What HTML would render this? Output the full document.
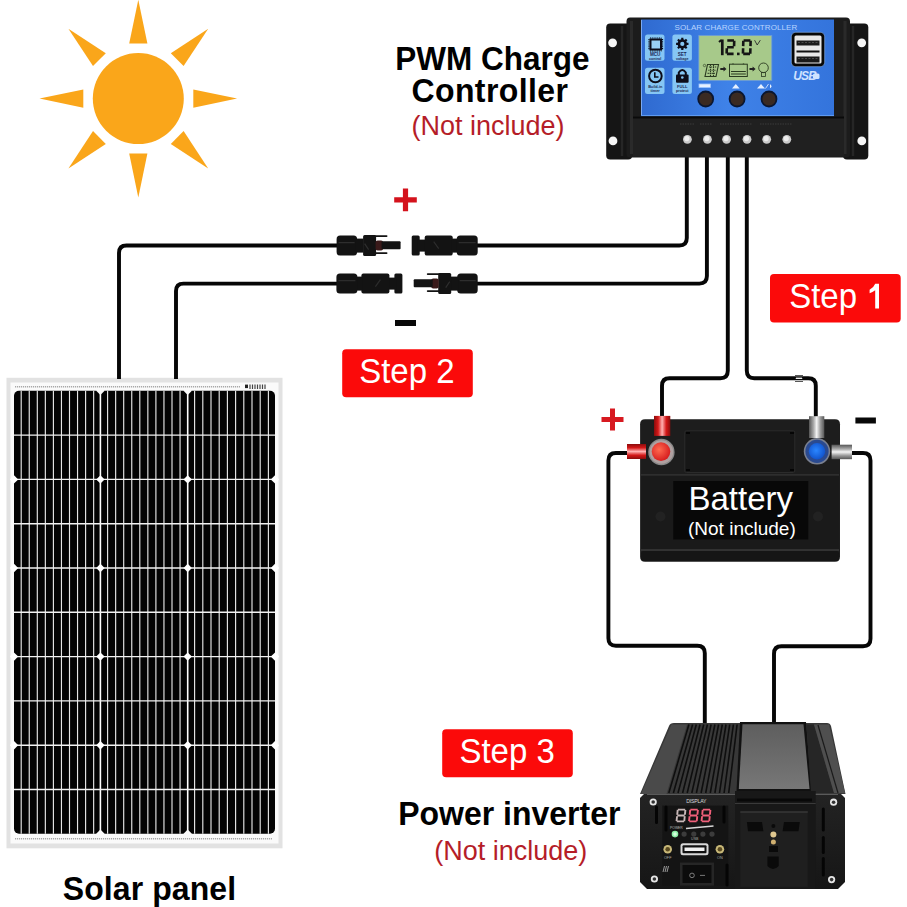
<!DOCTYPE html>
<html><head><meta charset="utf-8"><style>
html,body{margin:0;padding:0;background:#fff;width:907px;height:907px;overflow:hidden}
svg{display:block;position:absolute;left:0;top:0}
text{font-family:"Liberation Sans",sans-serif}
</style></head><body>
<svg width="907" height="907" viewBox="0 0 907 907">
<circle cx="138.3" cy="98.6" r="45.5" fill="#faa61a"/>
<path d="M237.1 98.6L193.3 107.7L193.3 89.5Z" fill="#faa61a"/>
<path d="M208.2 168.5L170.8 143.9L183.6 131.1Z" fill="#faa61a"/>
<path d="M138.3 197.4L129.2 153.6L147.4 153.6Z" fill="#faa61a"/>
<path d="M68.4 168.5L93.0 131.1L105.8 143.9Z" fill="#faa61a"/>
<path d="M39.5 98.6L83.3 89.5L83.3 107.7Z" fill="#faa61a"/>
<path d="M68.4 28.7L105.8 53.3L93.0 66.1Z" fill="#faa61a"/>
<path d="M138.3 -0.2L147.4 43.6L129.2 43.6Z" fill="#faa61a"/>
<path d="M208.2 28.7L183.6 66.1L170.8 53.3Z" fill="#faa61a"/>
<rect x="6.5" y="377.8" width="276" height="470.5" fill="#e2e2e2"/>
<rect x="10.5" y="382.5" width="268" height="461" fill="#fafafa"/>
<rect x="14" y="390.8" width="261" height="442.99999999999994" rx="5" fill="#030303"/>
<path d="M21.20 390.8V833.8M29.25 390.8V833.8M37.30 390.8V833.8M45.35 390.8V833.8M53.40 390.8V833.8M61.45 390.8V833.8M69.50 390.8V833.8M77.55 390.8V833.8M85.60 390.8V833.8M93.65 390.8V833.8M107.60 390.8V833.8M115.65 390.8V833.8M123.70 390.8V833.8M131.75 390.8V833.8M139.80 390.8V833.8M147.85 390.8V833.8M155.90 390.8V833.8M163.95 390.8V833.8M172.00 390.8V833.8M180.05 390.8V833.8M194.60 390.8V833.8M202.80 390.8V833.8M211.00 390.8V833.8M219.20 390.8V833.8M227.40 390.8V833.8M235.60 390.8V833.8M243.80 390.8V833.8M252.00 390.8V833.8M260.20 390.8V833.8M268.40 390.8V833.8" stroke="#e6e6e6" stroke-width="1.15" fill="none"/>
<path d="M100.4 390.8V833.8M187.7 390.8V833.8" stroke="#ffffff" stroke-width="1.6"/>
<path d="M14 435.1H275M14 479.4H275M14 523.7H275M14 568.0H275M14 612.3H275M14 656.6H275M14 700.9H275M14 745.2H275M14 789.5H275" stroke="#f2f2f2" stroke-width="1.4" fill="none"/>
<path d="M14 475.2L18.2 479.4L14 483.6L9.8 479.4Z" fill="#fff"/>
<path d="M100.4 475.2L104.60000000000001 479.4L100.4 483.6L96.2 479.4Z" fill="#fff"/>
<path d="M187.7 475.2L191.89999999999998 479.4L187.7 483.6L183.5 479.4Z" fill="#fff"/>
<path d="M275 475.2L279.2 479.4L275 483.6L270.8 479.4Z" fill="#fff"/>
<path d="M14 563.8L18.2 568.0L14 572.2L9.8 568.0Z" fill="#fff"/>
<path d="M100.4 563.8L104.60000000000001 568.0L100.4 572.2L96.2 568.0Z" fill="#fff"/>
<path d="M187.7 563.8L191.89999999999998 568.0L187.7 572.2L183.5 568.0Z" fill="#fff"/>
<path d="M275 563.8L279.2 568.0L275 572.2L270.8 568.0Z" fill="#fff"/>
<path d="M14 652.4L18.2 656.6L14 660.8L9.8 656.6Z" fill="#fff"/>
<path d="M100.4 652.4L104.60000000000001 656.6L100.4 660.8L96.2 656.6Z" fill="#fff"/>
<path d="M187.7 652.4L191.89999999999998 656.6L187.7 660.8L183.5 656.6Z" fill="#fff"/>
<path d="M275 652.4L279.2 656.6L275 660.8L270.8 656.6Z" fill="#fff"/>
<path d="M14 741.0L18.2 745.2L14 749.4L9.8 745.2Z" fill="#fff"/>
<path d="M100.4 741.0L104.60000000000001 745.2L100.4 749.4L96.2 745.2Z" fill="#fff"/>
<path d="M187.7 741.0L191.89999999999998 745.2L187.7 749.4L183.5 745.2Z" fill="#fff"/>
<path d="M275 741.0L279.2 745.2L275 749.4L270.8 745.2Z" fill="#fff"/>
<path d="M100.4 386.6L104.60000000000001 390.8L100.4 395.0L96.2 390.8Z" fill="#fafafa"/>
<path d="M187.7 386.6L191.89999999999998 390.8L187.7 395.0L183.5 390.8Z" fill="#fafafa"/>
<path d="M100.4 829.6L104.60000000000001 833.8L100.4 838.0L96.2 833.8Z" fill="#fafafa"/>
<path d="M187.7 829.6L191.89999999999998 833.8L187.7 838.0L183.5 833.8Z" fill="#fafafa"/>
<path d="M15 386.8H240M15 838.8H272" stroke="#a8a8a8" stroke-width="1.5" stroke-dasharray="1.2 0.8"/>
<rect x="245" y="384.6" width="3" height="3.5" fill="#222"/><path d="M250 384.5V389M252.5 384.5V389M255 384.5V389M257.5 384.5V389M260 384.5V389M262.5 384.5V389M265 384.5V389" stroke="#444" stroke-width="1.2"/>
<path d="M686.8 157V238.0Q686.8 245.5 679.3 245.5H470" stroke="#060606" stroke-width="3.9" fill="none"/>
<path d="M345 245.5H126.5Q119 245.5 119 253.0V379" stroke="#060606" stroke-width="3.9" fill="none"/>
<path d="M706.9 157V276.1Q706.9 283.6 699.4 283.6H470" stroke="#060606" stroke-width="3.9" fill="none"/>
<path d="M345 283.6H183.5Q176 283.6 176 291.1V379" stroke="#060606" stroke-width="3.9" fill="none"/>
<path d="M727.8 157V370.8Q727.8 378.3 720.3 378.3H669.5Q662 378.3 662 385.8V418" stroke="#060606" stroke-width="3.9" fill="none"/>
<path d="M746.8 157V370.8Q746.8 378.3 754.3 378.3H808.3Q815.8 378.3 815.8 385.8V418" stroke="#060606" stroke-width="3.9" fill="none"/>
<path d="M630 453H615.9Q608.4 453 608.4 460.5V638.3Q608.4 645.8 615.9 645.8H697.3Q704.8 645.8 704.8 653.3V724" stroke="#060606" stroke-width="3.9" fill="none"/>
<path d="M849 453H863.0Q870.5 453 870.5 460.5V638.8Q870.5 646.3 863.0 646.3H781.5Q774 646.3 774 653.8V724" stroke="#060606" stroke-width="3.9" fill="none"/>
<path d="M795 375.5H803M795 378.5H803M795 381.5H803" stroke="#444" stroke-width="0.9"/>
<path d="M796 378.3H802" stroke="#eee" stroke-width="1.4"/>
<defs><linearGradient id="bl" x1="0" y1="0" x2="1" y2="0"><stop offset="0" stop-color="#2f6ad0"/><stop offset="0.45" stop-color="#3f82e8"/><stop offset="1" stop-color="#3474dc"/></linearGradient></defs>
<rect x="606.2" y="23.5" width="26" height="136" rx="4" fill="#151515"/>
<rect x="843" y="23.5" width="25.3" height="136" rx="4" fill="#151515"/>
<path d="M630 17.5H846Q850 17.5 850 21.5V154Q850 157.5 846 157.5H630Q626.5 157.5 626.5 154V21.5Q626.5 17.5 630 17.5Z" fill="#1c1c1c"/>
<path d="M622 26V156M853 26V156" stroke="#262626" stroke-width="2.5"/>
<path d="M631.5 21V154M845 21V154" stroke="#2a2a2a" stroke-width="3"/>
<circle cx="612.6" cy="42.8" r="4.4" fill="#f6f6f6"/>
<circle cx="613" cy="140.9" r="4.4" fill="#f6f6f6"/>
<circle cx="861.7" cy="42.8" r="4.4" fill="#f6f6f6"/>
<circle cx="861.8" cy="140.9" r="4.4" fill="#f6f6f6"/>
<rect x="641" y="19.5" width="193" height="97" fill="url(#bl)"/>
<path d="M641.5 20V115.5" stroke="#9cc4ff" stroke-width="1" opacity="0.7"/>
<path d="M641 115.5H834" stroke="#5e9af0" stroke-width="1.2"/>
<text x="736" y="29.8" text-anchor="middle" font-size="8" fill="#b8d4ff" letter-spacing="0.1">SOLAR CHARGE CONTROLLER</text>
<rect x="645" y="34.6" width="19.5" height="26.2" rx="2.5" fill="#86c6f4"/>
<rect x="672.4" y="34.6" width="19.5" height="26.2" rx="2.5" fill="#86c6f4"/>
<rect x="645" y="67.8" width="19.5" height="26.2" rx="2.5" fill="#86c6f4"/>
<rect x="672.4" y="67.8" width="19.5" height="26.2" rx="2.5" fill="#86c6f4"/>
<rect x="650.5" y="39.5" width="10.5" height="10" fill="#9ad0f6" stroke="#0d0d1a" stroke-width="2"/>
<path d="M649 39V50M662.5 39V50M650 38H661.5M650 51H661.5" stroke="#0d0d1a" stroke-width="1.2" stroke-dasharray="1 0.8"/>
<text x="655.2" y="56.3" text-anchor="middle" font-size="4.6" font-weight="bold" fill="#1a2a55">MCU</text>
<text x="655.2" y="59.9" text-anchor="middle" font-size="3.6" font-weight="bold" fill="#1a2a55">control</text>
<path d="M686.10 43.90L688.50 43.90M684.99 46.59L686.68 48.28M682.30 47.70L682.30 50.10M679.61 46.59L677.92 48.28M678.50 43.90L676.10 43.90M679.61 41.21L677.92 39.52M682.30 40.10L682.30 37.70M684.99 41.21L686.68 39.52" stroke="#0d0d1a" stroke-width="2.2"/>
<circle cx="682.3" cy="43.9" r="3.4" fill="none" stroke="#0d0d1a" stroke-width="2.6"/>
<text x="682.2" y="56.3" text-anchor="middle" font-size="4.6" font-weight="bold" fill="#1a2a55">SET</text>
<text x="682.2" y="59.9" text-anchor="middle" font-size="3.6" font-weight="bold" fill="#1a2a55">voltage</text>
<circle cx="655.4" cy="76" r="6.3" fill="none" stroke="#0d0d1a" stroke-width="2"/>
<path d="M654.8 72.2V77H658.5" stroke="#0d0d1a" stroke-width="1.6" fill="none"/>
<text x="655.2" y="87.6" text-anchor="middle" font-size="3.8" font-weight="bold" fill="#1a2a55">Build-in</text>
<text x="655.2" y="91.6" text-anchor="middle" font-size="3.8" font-weight="bold" fill="#1a2a55">timer</text>
<path d="M678.8 75V72.5Q682.3 67.5 685.8 72.5V75" stroke="#0d0d1a" stroke-width="2" fill="none"/>
<rect x="676" y="74.4" width="12.6" height="8.3" rx="1" fill="#0d0d1a"/>
<circle cx="682.3" cy="77.5" r="1.3" fill="#86c6f4"/>
<text x="682.2" y="87.6" text-anchor="middle" font-size="4.1" font-weight="bold" fill="#1a2a55">FULL</text>
<text x="682.2" y="91.6" text-anchor="middle" font-size="3.7" font-weight="bold" fill="#1a2a55">protect</text>
<rect x="698.8" y="35.5" width="73" height="45" fill="#a7c98a"/>
<rect x="698.8" y="35.5" width="73" height="45" fill="none" stroke="#6b9bd8" stroke-width="0.8"/>
<path d="M722.3 39.5V55.2" stroke="#151515" stroke-width="2.7"/>
<path d="M721.5 40L719 42" stroke="#151515" stroke-width="2.2"/>
<path d="M727.30 40.50L733.98 40.50M734.23 40.76L734.07 46.16M726.90 53.90L733.58 53.90M726.81 48.24L726.65 53.64M727.10 47.20L733.78 47.20" stroke="#151515" stroke-width="2.6" fill="none"/>
<rect x="737" y="52.6" width="2.6" height="2.6" fill="#151515"/>
<path d="M743.60 40.50L750.38 40.50M750.63 40.76L750.47 46.16M750.41 48.24L750.25 53.64M743.20 53.90L749.98 53.90M743.11 48.24L742.95 53.64M743.33 40.76L743.17 46.16" stroke="#151515" stroke-width="2.6" fill="none"/>
<path d="M754.6 40.2L757.2 45L760.3 40.2" stroke="#2a2a2a" stroke-width="0.9" fill="none"/>
<path d="M707.5 64.5H718.5L716 76.5H705Z" fill="none" stroke="#2a3a20" stroke-width="1.1"/>
<path d="M709 67H717M708.3 70.2H716.3M707.6 73.4H715.6M710.5 65V76M713.5 65V76" stroke="#2a3a20" stroke-width="1.1" stroke-dasharray="1.2 0.8"/>
<circle cx="704.5" cy="65.5" r="1.2" fill="none" stroke="#2a3a20" stroke-width="0.6"/>
<path d="M720.3 68H723.5V66.5L726.5 69L723.5 71.5V70H720.3Z" fill="#222"/>
<rect x="729.5" y="64.2" width="17.8" height="12.3" fill="none" stroke="#2a3a20" stroke-width="1"/>
<path d="M733 63.5V64.2M743.5 63.5V64.2" stroke="#2a3a20" stroke-width="1.4"/>
<path d="M731 71.5H745.8M731 74H745.8" stroke="#2a3a20" stroke-width="1.1"/>
<path d="M749.5 68H752.6V66.5L755.6 69L752.6 71.5V70H749.5Z" fill="#222"/>
<circle cx="763.5" cy="67.8" r="4.8" fill="none" stroke="#2a3a20" stroke-width="0.9"/>
<rect x="761.5" y="72.4" width="4" height="4" fill="none" stroke="#2a3a20" stroke-width="0.8"/>
<rect x="699" y="84" width="11.4" height="3.5" fill="#e6f0ff" stroke="#9cc4ff" stroke-width="0.8"/>
<path d="M732 88.5L735.8 84L739.6 88.5Z" fill="#e6f0ff"/>
<path d="M757 88.5L761 84L765 88.5Z" fill="#e6f0ff"/><path d="M765.5 88.5L768.5 84" stroke="#e6f0ff" stroke-width="0.8"/><path d="M770 84.2A2.2 2.2 0 0 1 770 88.3Z" fill="#e6f0ff"/>
<circle cx="705.7" cy="99" r="8.4" fill="#0a1630"/><circle cx="705.7" cy="99" r="6.6" fill="#3a2a22"/>
<circle cx="737.1" cy="99" r="8.4" fill="#0a1630"/><circle cx="737.1" cy="99" r="6.6" fill="#3a2a22"/>
<circle cx="769" cy="99" r="8.4" fill="#0a1630"/><circle cx="769" cy="99" r="6.6" fill="#3a2a22"/>
<rect x="791.3" y="32.3" width="33.4" height="34.4" rx="4.5" fill="#080808" stroke="#8fb8f0" stroke-width="0.6"/>
<rect x="794.5" y="35.5" width="27" height="28" rx="1.5" fill="#e8e8e8"/>
<rect x="796.5" y="40.5" width="23" height="5" fill="#1a1a1a"/><rect x="796.5" y="50.5" width="23" height="2" fill="#111"/>
<rect x="796.5" y="56.5" width="23" height="6" fill="#1a1a1a"/>
<path d="M798 42.5H818M798 58.5H818" stroke="#555" stroke-width="0.8" stroke-dasharray="2 1.5"/>
<text x="793.2" y="79.8" font-size="12" font-style="italic" font-weight="bold" fill="#cfe2ff" letter-spacing="-0.8">USB</text>
<rect x="813" y="73.5" width="6.5" height="5.5" rx="1.5" fill="#cfe2ff"/>
<rect x="633" y="116.5" width="211" height="40" fill="#202020"/>
<path d="M633 117.5H844" stroke="#0a0a0a" stroke-width="2"/>
<path d="M680 124H694M700 124H712M720 124H752M760 124H792" stroke="#3a3a3a" stroke-width="1.2" stroke-dasharray="1.5 1"/>
<circle cx="687.4" cy="139.3" r="4.4" fill="#c9c9c9"/><circle cx="686.8" cy="138.6" r="2.6" fill="#ededed"/>
<circle cx="707.4" cy="139.3" r="4.4" fill="#c9c9c9"/><circle cx="706.8" cy="138.6" r="2.6" fill="#ededed"/>
<circle cx="726.6" cy="139.3" r="4.4" fill="#c9c9c9"/><circle cx="726.0" cy="138.6" r="2.6" fill="#ededed"/>
<circle cx="747" cy="139.3" r="4.4" fill="#c9c9c9"/><circle cx="746.4" cy="138.6" r="2.6" fill="#ededed"/>
<circle cx="766.7" cy="139.3" r="4.4" fill="#c9c9c9"/><circle cx="766.1" cy="138.6" r="2.6" fill="#ededed"/>
<circle cx="786.8" cy="139.3" r="4.4" fill="#c9c9c9"/><circle cx="786.1999999999999" cy="138.6" r="2.6" fill="#ededed"/>
<defs><linearGradient id="rpv" x1="0" y1="0" x2="1" y2="0"><stop offset="0" stop-color="#8a0c0c"/><stop offset="0.25" stop-color="#d41818"/><stop offset="0.5" stop-color="#ffb0b0"/><stop offset="0.75" stop-color="#d41818"/><stop offset="1" stop-color="#8a0c0c"/></linearGradient><linearGradient id="rph" x1="0" y1="0" x2="0" y2="1"><stop offset="0" stop-color="#8a0c0c"/><stop offset="0.25" stop-color="#d41818"/><stop offset="0.5" stop-color="#ffb0b0"/><stop offset="0.75" stop-color="#d41818"/><stop offset="1" stop-color="#8a0c0c"/></linearGradient><linearGradient id="gpv" x1="0" y1="0" x2="1" y2="0"><stop offset="0" stop-color="#555"/><stop offset="0.3" stop-color="#aaa"/><stop offset="0.5" stop-color="#f4f4f4"/><stop offset="0.75" stop-color="#999"/><stop offset="1" stop-color="#555"/></linearGradient><linearGradient id="gph" x1="0" y1="0" x2="0" y2="1"><stop offset="0" stop-color="#555"/><stop offset="0.3" stop-color="#aaa"/><stop offset="0.5" stop-color="#f4f4f4"/><stop offset="0.75" stop-color="#999"/><stop offset="1" stop-color="#555"/></linearGradient><radialGradient id="rc" cx="0.4" cy="0.4" r="0.6"><stop offset="0" stop-color="#ff6a50"/><stop offset="1" stop-color="#d82020"/></radialGradient><radialGradient id="bc" cx="0.45" cy="0.45" r="0.6"><stop offset="0" stop-color="#2a86ff"/><stop offset="1" stop-color="#1050c8"/></radialGradient></defs>
<path d="M645 419.3H835Q840 419.3 840 424.3V556.7Q840 561.7 835 561.7H645Q640.1 561.7 640.1 556.7V424.3Q640.1 419.3 645 419.3Z" fill="#1d1d1d"/>
<path d="M641 474.8H839" stroke="#353535" stroke-width="1.3"/>
<rect x="641" y="476" width="198" height="74" fill="#1a1a1a"/>
<path d="M641 550H839" stroke="#3a3a3a" stroke-width="1.3"/>
<rect x="641" y="551" width="198" height="10" rx="3" fill="#151515"/>
<circle cx="660.5" cy="516.5" r="5" fill="#222"/><circle cx="818" cy="516.5" r="5" fill="#222"/>
<rect x="684.8" y="430.8" width="110" height="41.7" rx="1.5" fill="#171717" stroke="#2b2b2b" stroke-width="1"/>
<path d="M686 433H690M790 433H794M686 470H690M790 470H794" stroke="#050505" stroke-width="2"/>
<rect x="673.3" y="481" width="135" height="58.5" fill="#080808"/>
<text x="688.5" y="510" font-size="33" fill="#fff">Battery</text>
<text x="688" y="535.2" font-size="19" fill="#fff">(Not include)</text>
<rect x="654" y="415.9" width="16.3" height="20" fill="url(#rpv)"/>
<rect x="627" y="444" width="19" height="15" fill="url(#rph)"/>
<circle cx="661.4" cy="452" r="13.2" fill="#8a8a8a"/><circle cx="661.4" cy="452" r="11.8" fill="#b0a0a0"/>
<circle cx="661" cy="451.6" r="9.3" fill="url(#rc)"/>
<rect x="809" y="416.2" width="15.3" height="21.8" fill="url(#gpv)"/>
<rect x="831.6" y="444.7" width="20.4" height="14.5" fill="url(#gph)"/>
<circle cx="817" cy="451.3" r="13.2" fill="#7a8090"/><circle cx="817" cy="451.3" r="11.6" fill="#2a4a90"/>
<circle cx="817" cy="451.3" r="8.2" fill="url(#bc)"/>
<path d="M601.5 419.5H623.5M612.5 408.5V430.5" stroke="#d71920" stroke-width="5"/>
<rect x="855.4" y="417.5" width="20.5" height="6" fill="#080808"/>
<defs><linearGradient id="ip" x1="0" y1="0" x2="0" y2="1"><stop offset="0" stop-color="#5e5e5e"/><stop offset="1" stop-color="#777"/></linearGradient><linearGradient id="ifr" x1="0" y1="0" x2="0" y2="1"><stop offset="0" stop-color="#232323"/><stop offset="1" stop-color="#161616"/></linearGradient></defs>
<path d="M674 723H827Q830 723 831 726L845.5 794H640L669 726Q670 723 674 723Z" fill="#383838"/>
<path d="M671.5 724.5L687 724.5L666.5 794H641Z" fill="#4a4a4a"/>
<path d="M688.9 724.5L668.8 793M692.6 724.5L673.4 793M696.3 724.5L678.0 793M700.0 724.5L682.6 793M703.7 724.5L687.2 793M707.4 724.5L691.8 793M711.1 724.5L696.4 793M714.9 724.5L701.1 793M718.6 724.5L705.7 793M722.3 724.5L710.3 793M726.0 724.5L714.9 793M729.7 724.5L719.5 793M733.4 724.5L724.1 793M737.1 724.5L728.7 793" stroke="#0e0e0e" stroke-width="1.6"/>
<path d="M740 722H806L811.5 791H736.5Z" fill="#111"/>
<path d="M742.5 724.2H803.5L809.5 789H738.8Z" fill="url(#ip)"/>
<path d="M806.5 724.5H814L834 793H811Z" fill="#262626"/>
<path d="M814 724.5H829L845 793H834Z" fill="#4f4f4f"/>
<path d="M818 725L838 793" stroke="#1a1a1a" stroke-width="1.2"/>
<path d="M644 794H841L845 798V882L838 889H647L640 882V798Z" fill="url(#ifr)"/>
<path d="M647 794.5H838" stroke="#5a5a5a" stroke-width="1.2"/>
<rect x="662.3" y="805.6" width="66" height="80" fill="#141414"/>
<circle cx="653.2" cy="802" r="3.6" fill="#e6e6e6"/><circle cx="653.2" cy="802" r="1.8" fill="#333"/>
<circle cx="654.4" cy="879" r="3.6" fill="#e6e6e6"/><circle cx="654.4" cy="879" r="1.8" fill="#333"/>
<circle cx="833.6" cy="802.2" r="3.6" fill="#e6e6e6"/><circle cx="833.6" cy="802.2" r="1.8" fill="#333"/>
<circle cx="831.6" cy="879.6" r="3.6" fill="#e6e6e6"/><circle cx="831.6" cy="879.6" r="1.8" fill="#333"/>
<path d="M656.5 807V822.5M666 807V830M724 807V822M727 865V885M823.3 809V830M823.3 837.5V852.5M823.3 858.5V875" stroke="#050505" stroke-width="3" stroke-linecap="round"/>
<text x="696.3" y="803.4" text-anchor="middle" font-size="5.2" fill="#d8d8d8" letter-spacing="-0.2">DISPLAY</text>
<path d="M677.90 809.65L685.23 809.65M685.40 809.84L684.91 814.74M684.75 816.26L684.26 821.16M676.74 821.35L684.06 821.35M677.05 816.26L676.56 821.16M677.70 809.84L677.21 814.74M677.32 815.50L684.64 815.50" stroke="#c8b8b8" stroke-width="1.9" fill="none"/>
<path d="M690.40 809.65L697.73 809.65M697.90 809.84L697.41 814.74M697.25 816.26L696.76 821.16M689.24 821.35L696.56 821.35M689.55 816.26L689.06 821.16M690.20 809.84L689.71 814.74M689.82 815.50L697.14 815.50" stroke="#f0607a" stroke-width="1.9" fill="none"/>
<path d="M702.90 809.65L710.23 809.65M710.40 809.84L709.91 814.74M709.75 816.26L709.26 821.16M701.74 821.35L709.06 821.35M702.05 816.26L701.56 821.16M702.70 809.84L702.21 814.74M702.32 815.50L709.64 815.50" stroke="#f0607a" stroke-width="1.9" fill="none"/>
<path d="M686 828.5L713.5 826" stroke="#d8d8d8" stroke-width="1.6"/>
<text x="670" y="829.2" font-size="3.4" fill="#bbb">POWER</text>
<circle cx="675" cy="834.1" r="3.3" fill="#8ef0a8"/><circle cx="675" cy="834.1" r="1.8" fill="#d8ffe0"/>
<circle cx="684.1" cy="834.1" r="2.6" fill="#3c3c3c"/>
<circle cx="693.8" cy="834.1" r="2.6" fill="#3c3c3c"/>
<circle cx="702.9" cy="834.1" r="2.6" fill="#3c3c3c"/>
<circle cx="712" cy="834.1" r="2.6" fill="#3c3c3c"/>
<text x="694.8" y="840" text-anchor="middle" font-size="3.6" fill="#aaa">USB</text>
<rect x="680.5" y="843.2" width="28" height="12" rx="2.5" fill="#d8d8d8"/><rect x="682.5" y="845.2" width="24" height="8" rx="1" fill="#111"/><rect x="684.5" y="847.5" width="20" height="3.5" fill="#f0f0f0"/>
<circle cx="667.7" cy="849.3" r="4.3" fill="#c8b878"/><circle cx="667.7" cy="849.3" r="2.3" fill="#5a4a20"/>
<circle cx="719.9" cy="849.3" r="4.3" fill="#c8b878"/><circle cx="719.9" cy="849.3" r="2.3" fill="#5a4a20"/>
<text x="667.7" y="859" text-anchor="middle" font-size="3.8" fill="#aaa">OFF</text>
<text x="719.9" y="859" text-anchor="middle" font-size="3.8" fill="#aaa">ON</text>
<rect x="680" y="862.6" width="34" height="23" fill="#262626"/><rect x="682.5" y="865" width="29" height="18" fill="#0c0c0c"/>
<circle cx="692" cy="875.4" r="2.3" fill="none" stroke="#888" stroke-width="0.9"/><path d="M700 875.4H705" stroke="#777" stroke-width="1"/>
<path d="M664.5 866L663 872M666.5 866L665 872M668.5 866L667 872" stroke="#bbb" stroke-width="0.8"/>
<rect x="735" y="791" width="80.7" height="98" fill="#181818"/>
<path d="M737 800H812" stroke="#080808" stroke-width="3"/>
<path d="M735 803.5H815.7" stroke="#3a3a3a" stroke-width="1"/>
<rect x="740.3" y="811.5" width="67.5" height="75.4" fill="#1f1f1f"/>
<path d="M740.3 812H807.8" stroke="#444" stroke-width="1"/>
<path d="M746.9 822H762L763.4 831.3H748Z M784 822H799.8L798.5 831.3H782.6Z" fill="#0a0a0a"/>
<circle cx="773.4" cy="826" r="2" fill="#0a0a0a"/>
<circle cx="773.4" cy="834.6" r="3" fill="#e0c890"/><circle cx="773.4" cy="841.9" r="2.5" fill="#d0b070"/>
<path d="M769 846H778V852H769Z" fill="#0a0a0a"/><path d="M767.4 856.4H778.7V866Q773 872 767.4 866Z" fill="#0a0a0a"/>
<text transform="translate(395.2 70.0) scale(1 1.04)" x="0" y="0" font-size="31.5" font-weight="bold" fill="#000">PWM Charge</text>
<text transform="translate(411.5 101.8) scale(1 1.03)" x="0" y="0" font-size="32" font-weight="bold" letter-spacing="0.4" fill="#000">Controller</text>
<text transform="translate(411.4 134.5) scale(1 1.0)" x="0" y="0" font-size="27" fill="#b51d28">(Not include)</text>
<text transform="translate(398.2 824.8) scale(1 1.04)" x="0" y="0" font-size="32" font-weight="bold" fill="#000">Power inverter</text>
<text transform="translate(434.3 860) scale(1 1.0)" x="0" y="0" font-size="27" fill="#b51d28">(Not include)</text>
<text transform="translate(62.7 900.3) scale(1 1.04)" x="0" y="0" font-size="32" font-weight="bold" letter-spacing="0.1" fill="#000">Solar panel</text>
<rect x="336.6" y="235.6" width="20.5" height="20" rx="3.5" fill="#131313"/>
<rect x="355.6" y="238.6" width="8" height="14" fill="#131313"/>
<rect x="363.1" y="235.1" width="13" height="21" rx="1.5" fill="#131313"/>
<path d="M374.6 236.1H386.6M374.6 253.1H386.6" stroke="#131313" stroke-width="1.8" stroke-linecap="round"/>
<rect x="375.6" y="240.6" width="7.5" height="10" rx="2" fill="#3a1a1a"/>
<rect x="381.6" y="241.29999999999998" width="19" height="8" rx="1" fill="#131313"/>
<path d="M338.6 242.6H354.6M364.6 243.6L368.6 249.6" stroke="#2e2e2e" stroke-width="1.2"/>
<rect x="411.7" y="235.6" width="8" height="20" rx="1.5" fill="#131313"/>
<rect x="417.7" y="239.6" width="8" height="12" fill="#131313"/>
<rect x="424.7" y="235.6" width="28" height="20" rx="2" fill="#131313"/>
<rect x="451.7" y="238.6" width="6" height="14" fill="#131313"/>
<rect x="456.7" y="235.6" width="21" height="20" rx="3.5" fill="#131313"/>
<path d="M458.7 242.6H475.7M433.7 241.6L438.7 248.6" stroke="#2c2c2c" stroke-width="1.2"/>
<g transform="translate(739 0) scale(-1 1)"><rect x="336.6" y="273.6" width="8" height="20" rx="1.5" fill="#131313"/>
<rect x="342.6" y="277.6" width="8" height="12" fill="#131313"/>
<rect x="349.6" y="273.6" width="28" height="20" rx="2" fill="#131313"/>
<rect x="376.6" y="276.6" width="6" height="14" fill="#131313"/>
<rect x="381.6" y="273.6" width="21" height="20" rx="3.5" fill="#131313"/>
<path d="M383.6 280.6H400.6M358.6 279.6L363.6 286.6" stroke="#2c2c2c" stroke-width="1.2"/></g>
<g transform="translate(814.3 0) scale(-1 1)"><rect x="336.6" y="273.6" width="20.5" height="20" rx="3.5" fill="#131313"/>
<rect x="355.6" y="276.6" width="8" height="14" fill="#131313"/>
<rect x="363.1" y="273.1" width="13" height="21" rx="1.5" fill="#131313"/>
<path d="M374.6 274.1H386.6M374.6 291.1H386.6" stroke="#131313" stroke-width="1.8" stroke-linecap="round"/>
<rect x="375.6" y="278.6" width="7.5" height="10" rx="2" fill="#3a1a1a"/>
<rect x="381.6" y="279.3" width="19" height="8" rx="1" fill="#131313"/>
<path d="M338.6 280.6H354.6M364.6 281.6L368.6 287.6" stroke="#2e2e2e" stroke-width="1.2"/></g>
<path d="M394.2 199.8H416.8M405.5 188.5V211.2" stroke="#d4121c" stroke-width="5.2"/>
<rect x="395" y="320" width="21" height="6" fill="#080808"/>
<rect x="770" y="274" width="130.7" height="48.5" rx="4" fill="#fb0a0a"/><text transform="translate(789.2 308.2) scale(1 1.07)" x="0" y="0" font-size="33" fill="#fff">Step</text>
<path d="M875.2 283.8H879V308.4H875.2V290.3Q872.5 292.5 869.6 293.3V289.8Q873.5 288 875.2 283.8Z" fill="#fff"/>
<rect x="342.2" y="349.2" width="130.6" height="48" rx="4" fill="#fb0a0a"/><text transform="translate(359.2 383.0) scale(1 1.07)" x="0" y="0" font-size="33" fill="#fff">Step 2</text>
<rect x="442.2" y="729.2" width="130.6" height="48" rx="4" fill="#fb0a0a"/><text transform="translate(459.4 763.1) scale(1 1.07)" x="0" y="0" font-size="33" fill="#fff">Step 3</text>
</svg>
</body></html>
